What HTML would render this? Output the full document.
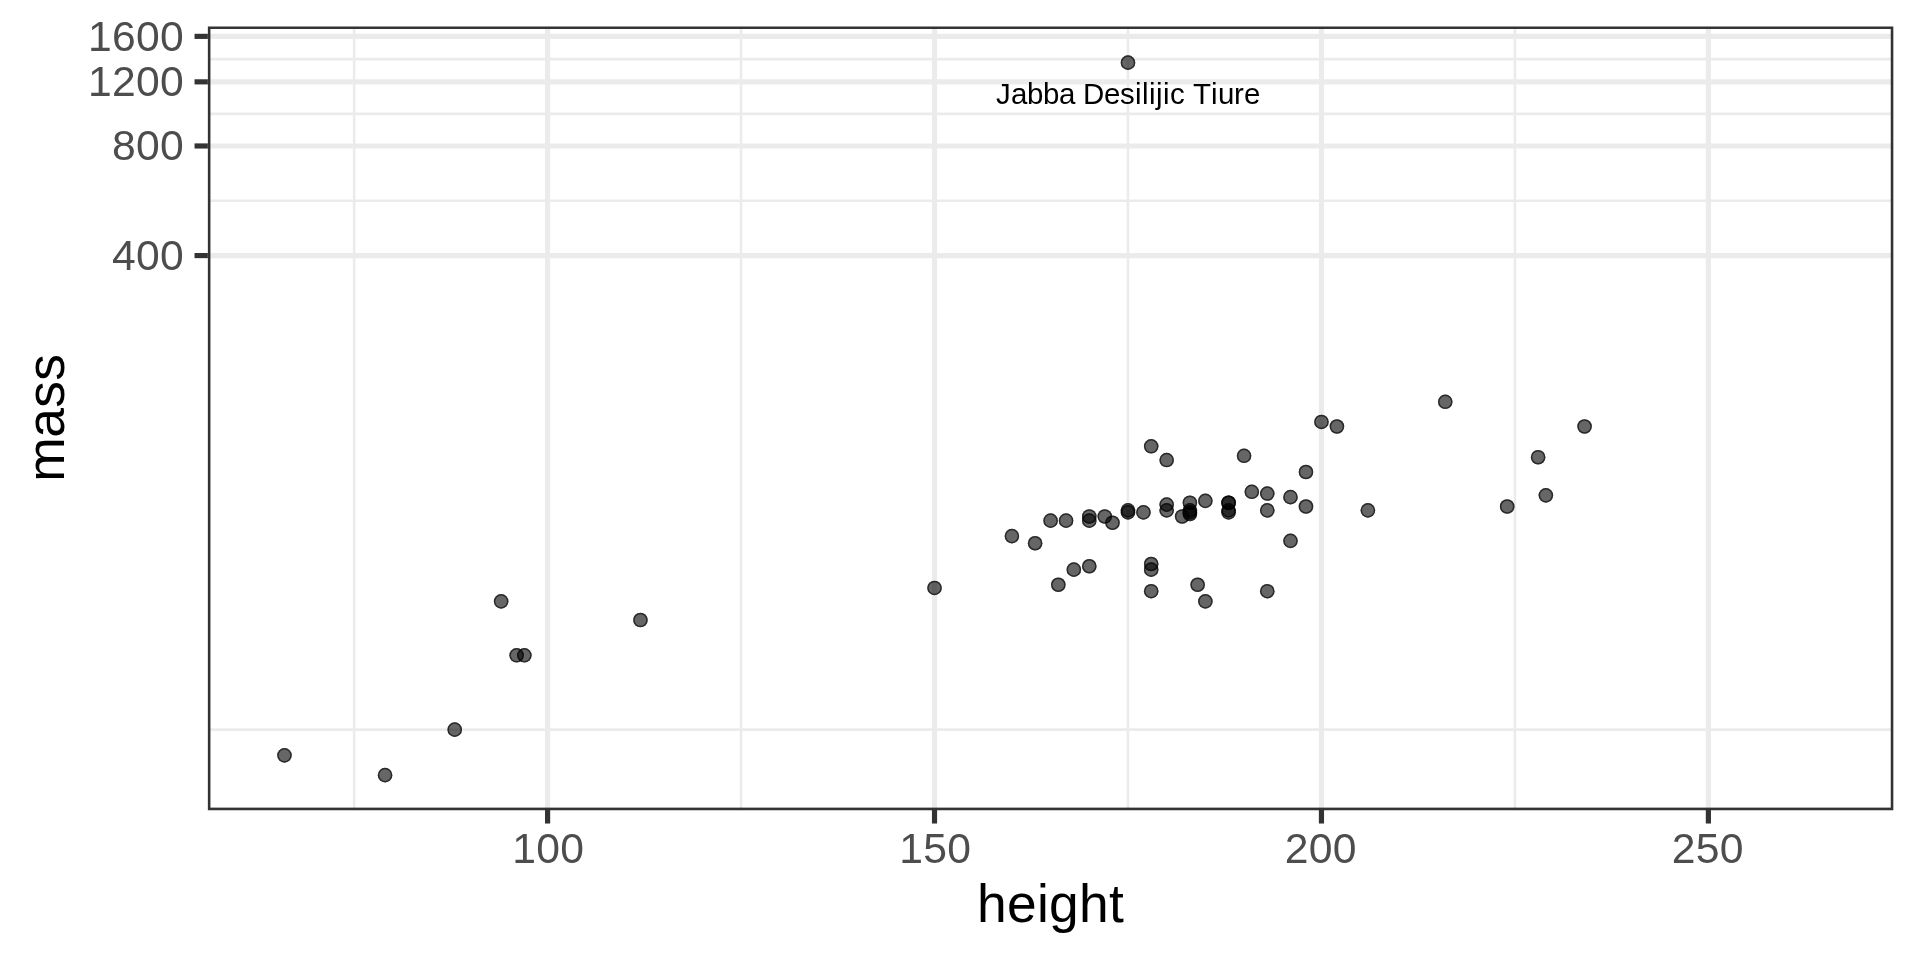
<!DOCTYPE html>
<html><head><meta charset="utf-8"><style>
html,body{margin:0;padding:0;background:#fff;width:1920px;height:960px;overflow:hidden}
svg{position:absolute;left:0;top:0;display:block;will-change:transform}
text{font-family:"Liberation Sans",sans-serif}
</style></head><body>
<svg width="1920" height="960" viewBox="0 0 1920 960">

<defs><clipPath id="pc"><rect x="207.86" y="26.40" width="1685.47" height="783.80"/></clipPath></defs>
<g clip-path="url(#pc)">
<line x1="354.12" y1="26.67" x2="354.12" y2="810.40" stroke="#EBEBEB" stroke-width="2.585"/>
<line x1="741.05" y1="26.67" x2="741.05" y2="810.40" stroke="#EBEBEB" stroke-width="2.585"/>
<line x1="1127.98" y1="26.67" x2="1127.98" y2="810.40" stroke="#EBEBEB" stroke-width="2.585"/>
<line x1="1514.91" y1="26.67" x2="1514.91" y2="810.40" stroke="#EBEBEB" stroke-width="2.585"/>
<line x1="207.86" y1="200.77" x2="1893.33" y2="200.77" stroke="#EBEBEB" stroke-width="2.585"/>
<line x1="207.86" y1="113.91" x2="1893.33" y2="113.91" stroke="#EBEBEB" stroke-width="2.585"/>
<line x1="207.86" y1="59.11" x2="1893.33" y2="59.11" stroke="#EBEBEB" stroke-width="2.585"/>
<line x1="207.86" y1="729.6" x2="1893.33" y2="729.6" stroke="#EBEBEB" stroke-width="2.585"/>
<line x1="547.59" y1="26.67" x2="547.59" y2="810.40" stroke="#EBEBEB" stroke-width="5.17"/>
<line x1="934.52" y1="26.67" x2="934.52" y2="810.40" stroke="#EBEBEB" stroke-width="5.17"/>
<line x1="1321.45" y1="26.67" x2="1321.45" y2="810.40" stroke="#EBEBEB" stroke-width="5.17"/>
<line x1="1708.38" y1="26.67" x2="1708.38" y2="810.40" stroke="#EBEBEB" stroke-width="5.17"/>
<line x1="207.86" y1="255.57" x2="1893.33" y2="255.57" stroke="#EBEBEB" stroke-width="5.17"/>
<line x1="207.86" y1="145.97" x2="1893.33" y2="145.97" stroke="#EBEBEB" stroke-width="5.17"/>
<line x1="207.86" y1="81.85" x2="1893.33" y2="81.85" stroke="#EBEBEB" stroke-width="5.17"/>
<line x1="207.86" y1="36.36" x2="1893.33" y2="36.36" stroke="#EBEBEB" stroke-width="5.17"/>
<g fill="#000" fill-opacity="0.6" stroke="#000" stroke-opacity="0.6" stroke-width="1.5">
<circle cx="1104.77" cy="516.47" r="7.3" stroke="none"/><circle cx="1104.77" cy="516.47" r="6.55" fill="none"/>
<circle cx="1066.07" cy="520.63" r="7.3" stroke="none"/><circle cx="1066.07" cy="520.63" r="6.55" fill="none"/>
<circle cx="516.63" cy="655.31" r="7.3" stroke="none"/><circle cx="516.63" cy="655.31" r="6.55" fill="none"/>
<circle cx="1336.92" cy="426.52" r="7.3" stroke="none"/><circle cx="1336.92" cy="426.52" r="6.55" fill="none"/>
<circle cx="934.52" cy="587.94" r="7.3" stroke="none"/><circle cx="934.52" cy="587.94" r="6.55" fill="none"/>
<circle cx="1151.20" cy="446.31" r="7.3" stroke="none"/><circle cx="1151.20" cy="446.31" r="6.55" fill="none"/>
<circle cx="1050.60" cy="520.63" r="7.3" stroke="none"/><circle cx="1050.60" cy="520.63" r="6.55" fill="none"/>
<circle cx="524.37" cy="655.31" r="7.3" stroke="none"/><circle cx="524.37" cy="655.31" r="6.55" fill="none"/>
<circle cx="1189.89" cy="502.71" r="7.3" stroke="none"/><circle cx="1189.89" cy="502.71" r="6.55" fill="none"/>
<circle cx="1182.15" cy="516.47" r="7.3" stroke="none"/><circle cx="1182.15" cy="516.47" r="6.55" fill="none"/>
<circle cx="1228.58" cy="502.71" r="7.3" stroke="none"/><circle cx="1228.58" cy="502.71" r="6.55" fill="none"/>
<circle cx="1538.13" cy="457.22" r="7.3" stroke="none"/><circle cx="1538.13" cy="457.22" r="6.55" fill="none"/>
<circle cx="1166.67" cy="510.42" r="7.3" stroke="none"/><circle cx="1166.67" cy="510.42" r="6.55" fill="none"/>
<circle cx="1112.50" cy="522.75" r="7.3" stroke="none"/><circle cx="1112.50" cy="522.75" r="6.55" fill="none"/>
<circle cx="1127.98" cy="62.64" r="7.3" stroke="none"/><circle cx="1127.98" cy="62.64" r="6.55" fill="none"/>
<circle cx="1089.29" cy="516.47" r="7.3" stroke="none"/><circle cx="1089.29" cy="516.47" r="6.55" fill="none"/>
<circle cx="1166.67" cy="460.07" r="7.3" stroke="none"/><circle cx="1166.67" cy="460.07" r="6.55" fill="none"/>
<circle cx="284.47" cy="755.33" r="7.3" stroke="none"/><circle cx="284.47" cy="755.33" r="6.55" fill="none"/>
<circle cx="1089.29" cy="520.63" r="7.3" stroke="none"/><circle cx="1089.29" cy="520.63" r="6.55" fill="none"/>
<circle cx="1189.89" cy="514.02" r="7.3" stroke="none"/><circle cx="1189.89" cy="514.02" r="6.55" fill="none"/>
<circle cx="1321.45" cy="421.93" r="7.3" stroke="none"/><circle cx="1321.45" cy="421.93" r="6.55" fill="none"/>
<circle cx="1244.06" cy="455.81" r="7.3" stroke="none"/><circle cx="1244.06" cy="455.81" r="6.55" fill="none"/>
<circle cx="1143.46" cy="512.41" r="7.3" stroke="none"/><circle cx="1143.46" cy="512.41" r="6.55" fill="none"/>
<circle cx="1127.98" cy="512.41" r="7.3" stroke="none"/><circle cx="1127.98" cy="512.41" r="6.55" fill="none"/>
<circle cx="1166.67" cy="504.60" r="7.3" stroke="none"/><circle cx="1166.67" cy="504.60" r="6.55" fill="none"/>
<circle cx="454.72" cy="729.64" r="7.3" stroke="none"/><circle cx="454.72" cy="729.64" r="6.55" fill="none"/>
<circle cx="1011.90" cy="536.12" r="7.3" stroke="none"/><circle cx="1011.90" cy="536.12" r="6.55" fill="none"/>
<circle cx="1267.28" cy="493.56" r="7.3" stroke="none"/><circle cx="1267.28" cy="493.56" r="6.55" fill="none"/>
<circle cx="1251.80" cy="491.80" r="7.3" stroke="none"/><circle cx="1251.80" cy="491.80" r="6.55" fill="none"/>
<circle cx="1205.37" cy="601.40" r="7.3" stroke="none"/><circle cx="1205.37" cy="601.40" r="6.55" fill="none"/>
<circle cx="1290.49" cy="540.84" r="7.3" stroke="none"/><circle cx="1290.49" cy="540.84" r="6.55" fill="none"/>
<circle cx="1507.17" cy="506.52" r="7.3" stroke="none"/><circle cx="1507.17" cy="506.52" r="6.55" fill="none"/>
<circle cx="640.45" cy="620.03" r="7.3" stroke="none"/><circle cx="640.45" cy="620.03" r="6.55" fill="none"/>
<circle cx="1127.98" cy="510.42" r="7.3" stroke="none"/><circle cx="1127.98" cy="510.42" r="6.55" fill="none"/>
<circle cx="1151.20" cy="569.67" r="7.3" stroke="none"/><circle cx="1151.20" cy="569.67" r="6.55" fill="none"/>
<circle cx="385.07" cy="775.13" r="7.3" stroke="none"/><circle cx="385.07" cy="775.13" r="6.55" fill="none"/>
<circle cx="501.15" cy="601.40" r="7.3" stroke="none"/><circle cx="501.15" cy="601.40" r="6.55" fill="none"/>
<circle cx="1035.12" cy="543.26" r="7.3" stroke="none"/><circle cx="1035.12" cy="543.26" r="6.55" fill="none"/>
<circle cx="1228.58" cy="502.71" r="7.3" stroke="none"/><circle cx="1228.58" cy="502.71" r="6.55" fill="none"/>
<circle cx="1305.97" cy="506.52" r="7.3" stroke="none"/><circle cx="1305.97" cy="506.52" r="6.55" fill="none"/>
<circle cx="1290.49" cy="497.16" r="7.3" stroke="none"/><circle cx="1290.49" cy="497.16" r="6.55" fill="none"/>
<circle cx="1197.63" cy="584.74" r="7.3" stroke="none"/><circle cx="1197.63" cy="584.74" r="6.55" fill="none"/>
<circle cx="1228.58" cy="510.42" r="7.3" stroke="none"/><circle cx="1228.58" cy="510.42" r="6.55" fill="none"/>
<circle cx="1205.37" cy="500.84" r="7.3" stroke="none"/><circle cx="1205.37" cy="500.84" r="6.55" fill="none"/>
<circle cx="1189.89" cy="510.42" r="7.3" stroke="none"/><circle cx="1189.89" cy="510.42" r="6.55" fill="none"/>
<circle cx="1089.29" cy="566.26" r="7.3" stroke="none"/><circle cx="1089.29" cy="566.26" r="6.55" fill="none"/>
<circle cx="1058.33" cy="584.74" r="7.3" stroke="none"/><circle cx="1058.33" cy="584.74" r="6.55" fill="none"/>
<circle cx="1267.28" cy="510.42" r="7.3" stroke="none"/><circle cx="1267.28" cy="510.42" r="6.55" fill="none"/>
<circle cx="1189.89" cy="512.41" r="7.3" stroke="none"/><circle cx="1189.89" cy="512.41" r="6.55" fill="none"/>
<circle cx="1073.81" cy="569.67" r="7.3" stroke="none"/><circle cx="1073.81" cy="569.67" r="6.55" fill="none"/>
<circle cx="1305.97" cy="472.01" r="7.3" stroke="none"/><circle cx="1305.97" cy="472.01" r="6.55" fill="none"/>
<circle cx="1545.87" cy="495.35" r="7.3" stroke="none"/><circle cx="1545.87" cy="495.35" r="6.55" fill="none"/>
<circle cx="1267.28" cy="591.20" r="7.3" stroke="none"/><circle cx="1267.28" cy="591.20" r="6.55" fill="none"/>
<circle cx="1151.20" cy="564.02" r="7.3" stroke="none"/><circle cx="1151.20" cy="564.02" r="6.55" fill="none"/>
<circle cx="1445.26" cy="401.81" r="7.3" stroke="none"/><circle cx="1445.26" cy="401.81" r="6.55" fill="none"/>
<circle cx="1584.56" cy="426.52" r="7.3" stroke="none"/><circle cx="1584.56" cy="426.52" r="6.55" fill="none"/>
<circle cx="1228.58" cy="512.41" r="7.3" stroke="none"/><circle cx="1228.58" cy="512.41" r="6.55" fill="none"/>
<circle cx="1151.20" cy="591.20" r="7.3" stroke="none"/><circle cx="1151.20" cy="591.20" r="6.55" fill="none"/>
<circle cx="1367.88" cy="510.42" r="7.3" stroke="none"/><circle cx="1367.88" cy="510.42" r="6.55" fill="none"/>
</g>
<text x="995.90 1010.90 1026.90 1042.90 1058.90 1074.90 1082.90 1103.90 1119.90 1134.90 1141.90 1148.90 1155.90 1162.90 1169.90 1184.90 1192.90 1210.90 1217.90 1233.90 1243.90" y="104" font-size="29.45" fill="#000">Jabba Desilijic Tiure</text>
<rect x="207.86" y="26.40" width="1685.47" height="783.80" fill="none" stroke="#333333" stroke-width="5.17"/>
</g>
<g stroke="#333333" stroke-width="5.17">
<line x1="547.59" y1="809.20" x2="547.59" y2="823.53"/>
<line x1="934.52" y1="809.20" x2="934.52" y2="823.53"/>
<line x1="1321.45" y1="809.20" x2="1321.45" y2="823.53"/>
<line x1="1708.38" y1="809.20" x2="1708.38" y2="823.53"/>
<line x1="194.53" y1="255.57" x2="207.86" y2="255.57"/>
<line x1="194.53" y1="145.97" x2="207.86" y2="145.97"/>
<line x1="194.53" y1="81.85" x2="207.86" y2="81.85"/>
<line x1="194.53" y1="36.36" x2="207.86" y2="36.36"/>
</g>
<g font-size="42.67" fill="#4D4D4D">
<text x="512.19 536.19 560.19" y="863.0">100</text>
<text x="899.22 923.22 947.22" y="863.0">150</text>
<text x="1284.65 1308.65 1332.65" y="863.0">200</text>
<text x="1671.68 1695.68 1719.68" y="863.0">250</text>
<text x="111.95 135.95 159.95" y="270">400</text>
<text x="111.95 135.95 159.95" y="160">800</text>
<text x="87.95 111.95 135.95 159.95" y="96">1200</text>
<text x="87.95 111.95 135.95 159.95" y="51">1600</text>
</g>
<text x="977.10 1007.10 1037.10 1049.10 1079.10 1109.10" y="922" font-size="53.33" fill="#000">height</text>
<text transform="translate(64.2,417.8) rotate(-90)" x="-64.00 -20.00 10.00 37.00" y="0" font-size="53.33" fill="#000">mass</text>
</svg>
</body></html>
